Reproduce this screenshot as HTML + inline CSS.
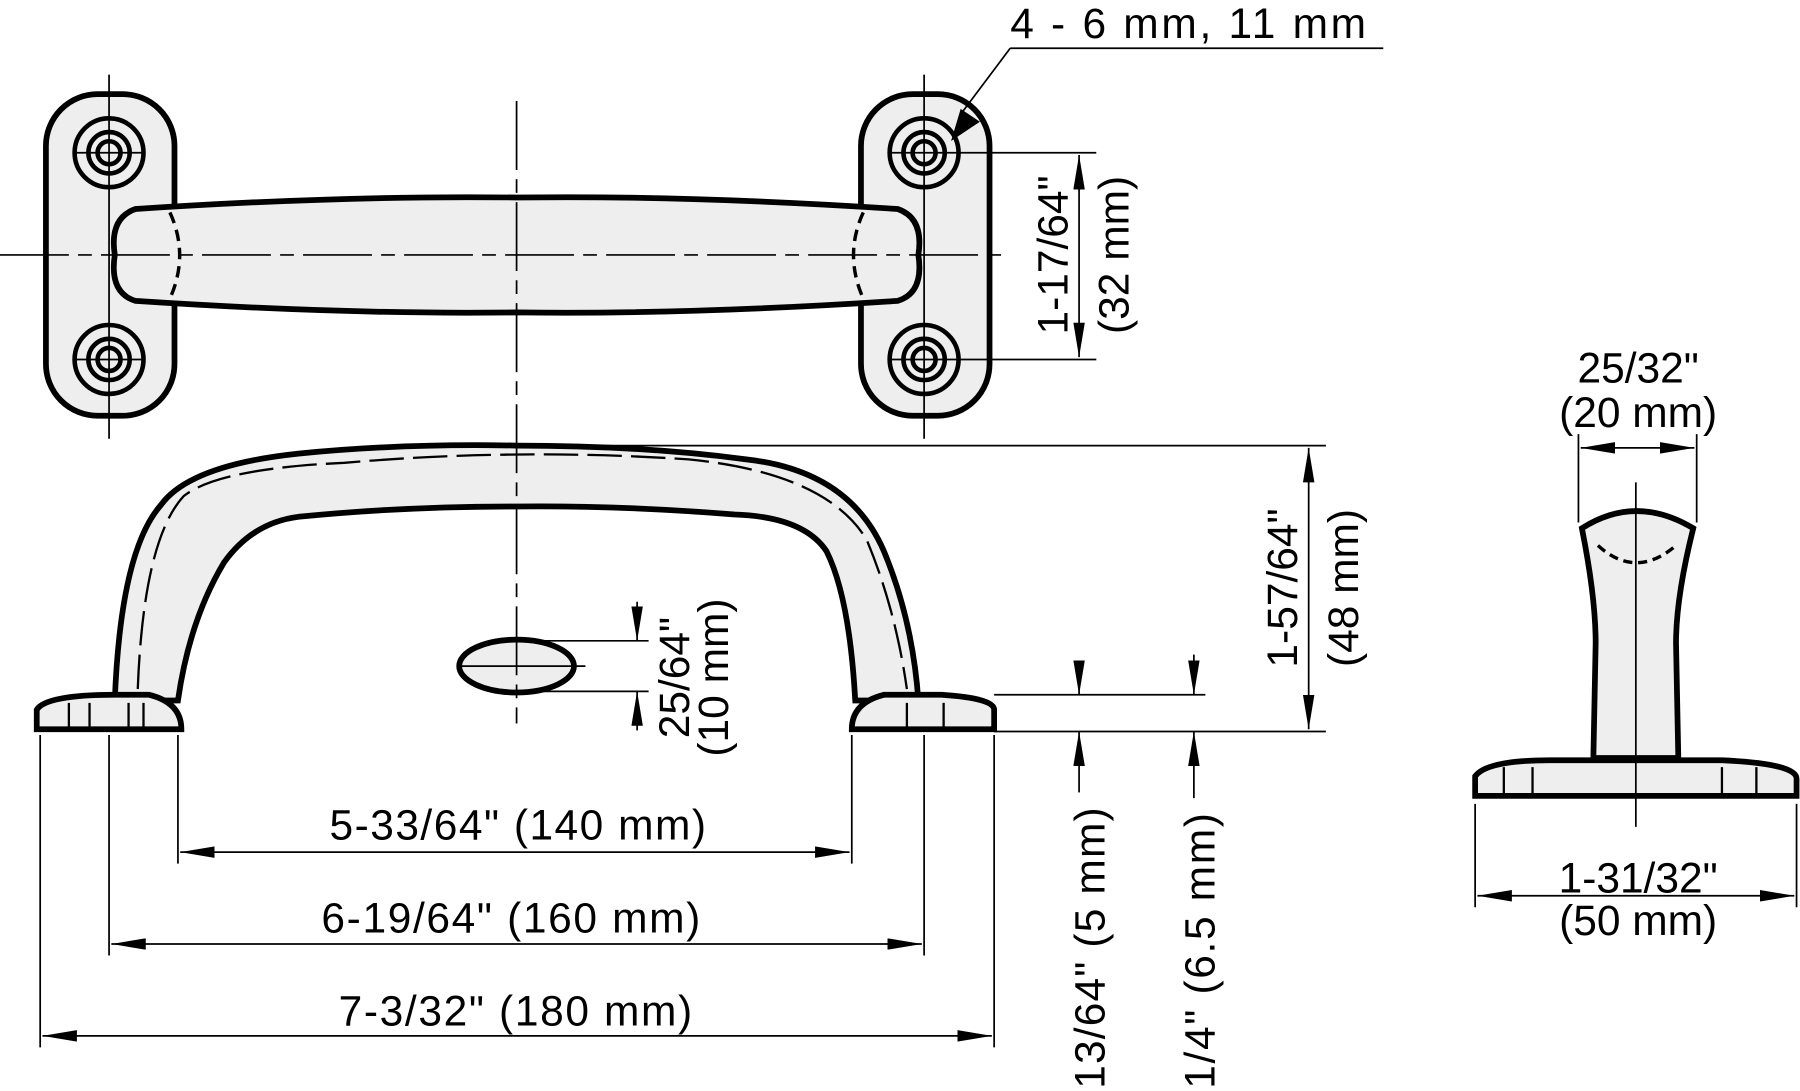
<!DOCTYPE html>
<html><head><style>html,body{margin:0;padding:0;background:#fff}svg{display:block}</style></head><body>
<svg width="1800" height="1091" viewBox="0 0 1568 950" preserveAspectRatio="none" xmlns="http://www.w3.org/2000/svg" font-family="Liberation Sans, sans-serif" font-size="37" fill="#000">
<defs>
<marker id="b" viewBox="0 0 30 10" refX="30" refY="5" markerWidth="30" markerHeight="10" markerUnits="userSpaceOnUse" orient="auto-start-reverse"><path d="M0,0 L30,5 L0,10z"/></marker></defs>
<g stroke="#000" stroke-width="5" fill="#eee">
<rect x="40" y="82" width="112" height="280" rx="45"/>
<rect x="750" y="82" width="112" height="280" rx="45"/>
<path d="M118,182 Q300,170 450,172 Q600,170 782,182 Q805,190 800,222 Q805,255 782,262 Q600,274 450,272 Q300,274 118,262 Q95,255 100,222 Q95,190 118,182z"/>
</g>
<g stroke="#000" stroke-width="4" fill="none">
<circle cx="95" cy="133" r="30"/><circle cx="95" cy="133" r="18"/><circle cx="95" cy="133" r="10"/>
<circle cx="95" cy="313" r="30"/><circle cx="95" cy="313" r="18"/><circle cx="95" cy="313" r="10"/>
<circle cx="805" cy="133" r="30"/><circle cx="805" cy="133" r="18"/><circle cx="805" cy="133" r="10"/>
<circle cx="805" cy="313" r="30"/><circle cx="805" cy="313" r="18"/><circle cx="805" cy="313" r="10"/>
<path d="M148,185 Q165,222 148,260" stroke-dasharray="10 6" stroke-width="3"/>
<path d="M752,185 Q735,222 752,260" stroke-dasharray="10 6" stroke-width="3"/>
</g>
<g stroke="#000" stroke-width="5" fill="#eee">
<path d="M100,610 Q105,480 140,440 Q165,405 260,395 Q350,386 450,388 Q560,388 650,400 Q740,410 770,480 Q795,540 800,610 L745,610 Q740,520 720,480 Q700,450 640,448 Q540,440 450,441 Q350,441 260,450 Q220,455 195,490 Q165,540 155,610z"/>
<path d="M32,635 L32,618 Q40,605 100,605 L130,605 Q158,612 158,635z"/>
<path d="M742,635 Q742,612 770,605 L820,605 Q866,608 866,618 L866,635z"/>
<ellipse cx="450" cy="580" rx="50" ry="23"/>
<path d="M1378,460 Q1425,430 1475,460 Q1460,520 1460,560 L1462,660 L1388,660 L1390,560 Q1390,520 1378,460z"/>
<path d="M1285,693 L1285,676 Q1295,662 1350,662 L1500,662 Q1565,665 1565,678 L1565,693z"/>
</g>
<g stroke="#000" stroke-width="2" fill="none">
<path d="M120,600 Q125,470 160,432 Q190,408 300,403 Q450,390 600,400 Q720,412 755,470 Q780,530 790,600" stroke-dasharray="30 8"/>
<path d="M1392,475 Q1425,505 1460,475" stroke-dasharray="8 5" stroke-width="3"/>
<path d="M60,612 L60,635 M78,612 L78,635 M112,612 L112,635 M125,612 L125,635 M790,612 L790,635 M822,612 L822,635 M1310,668 L1310,692 M1335,668 L1335,692 M1500,668 L1500,692 M1530,668 L1530,692"/>
</g>
<g stroke="#000" stroke-width="1.5" fill="none">
<path d="M0,222 L880,222" stroke-dasharray="60 8 12 8"/>
<path d="M450,88 L450,630" stroke-dasharray="60 8 12 8"/>
<path d="M95,65 L95,382 M805,65 L805,382 M65,133 L125,133 M65,313 L125,313 M775,133 L835,133 M775,313 L835,313"/>
<path d="M398,580 L510,580"/>
<path d="M1425,420 L1425,720"/>
<path d="M880,42 L1205,42 M880,42 L838,98"/>
<path d="M835,133 L955,133 M835,313 L955,313"/>
<path d="M940,135 L940,311" marker-start="url(#b)" marker-end="url(#b)"/>
<path d="M455,388 L1155,388 M866,637 L1155,637"/>
<path d="M1140,390 L1140,635" marker-start="url(#b)" marker-end="url(#b)"/>
<path d="M455,558 L565,558 M455,602 L565,602"/>
<path d="M555,524 L555,558" marker-end="url(#b)"/><path d="M555,636 L555,602" marker-end="url(#b)"/>
<path d="M866,605 L1050,605"/>
<path d="M940,578 L940,605" marker-end="url(#b)"/><path d="M940,690 L940,637" marker-end="url(#b)"/>
<path d="M1040,570 L1040,605" marker-end="url(#b)"/><path d="M1040,695 L1040,637" marker-end="url(#b)"/>
<path d="M155,640 L155,752 M742,640 L742,752 M95,640 L95,832 M805,640 L805,832 M35,640 L35,912 M866,640 L866,912"/>
<path d="M157,742 L740,742" marker-start="url(#b)" marker-end="url(#b)"/>
<path d="M97,822 L803,822" marker-start="url(#b)" marker-end="url(#b)"/>
<path d="M37,902 L864,902" marker-start="url(#b)" marker-end="url(#b)"/>
<path d="M1375,378 L1375,455 M1478,378 L1478,455"/>
<path d="M1377,390 L1476,390" marker-start="url(#b)" marker-end="url(#b)"/>
<path d="M1285,700 L1285,790 M1565,700 L1565,790"/>
<path d="M1287,780 L1563,780" marker-start="url(#b)" marker-end="url(#b)"/>
</g>
<path d="M838,98 L832,118 L850,106z" stroke="#000" stroke-width="4"/>
<text x="880" y="33" textLength="310">4 - 6 mm, 11 mm</text>
<text transform="translate(930,222) rotate(-90)" text-anchor="middle">1-17/64"</text>
<text transform="translate(983,222) rotate(-90)" text-anchor="middle">(32 mm)</text>
<text transform="translate(1130,512) rotate(-90)" text-anchor="middle">1-57/64"</text>
<text transform="translate(1183,512) rotate(-90)" text-anchor="middle">(48 mm)</text>
<text transform="translate(600,590) rotate(-90)" text-anchor="middle">25/64"</text>
<text transform="translate(634,590) rotate(-90)" text-anchor="middle">(10 mm)</text>
<text transform="translate(962,948) rotate(-90)" textLength="245">13/64" (5 mm)</text>
<text transform="translate(1058,948) rotate(-90)" textLength="240">1/4" (6.5 mm)</text>
<text x="287" y="731" textLength="328">5-33/64" (140 mm)</text>
<text x="280" y="812" textLength="330">6-19/64" (160 mm)</text>
<text x="295" y="893" textLength="308">7-3/32" (180 mm)</text>
<text x="1427" y="333" text-anchor="middle">25/32"</text>
<text x="1427" y="372" text-anchor="middle">(20 mm)</text>
<text x="1427" y="777" text-anchor="middle">1-31/32"</text>
<text x="1427" y="814" text-anchor="middle">(50 mm)</text>
</svg>
</body></html>
